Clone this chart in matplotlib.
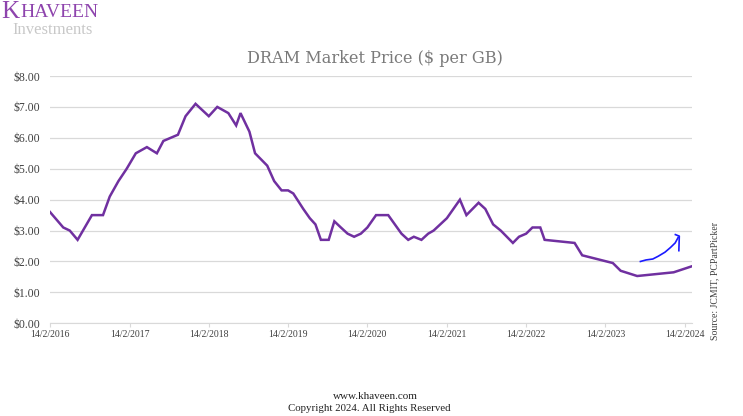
import matplotlib
matplotlib.use("Agg")
import matplotlib.pyplot as plt
import numpy as np
import pandas as pd

# DRAM price, $ per GB
dates = ["2016-02-14", "2016-04-15", "2016-05-15", "2016-06-20", "2016-08-25",
         "2016-10-15", "2016-11-15", "2016-12-25", "2017-02-01", "2017-03-15",
         "2017-05-05", "2017-06-20", "2017-07-20", "2017-09-25", "2017-10-30",
         "2017-12-15", "2018-02-14", "2018-03-25", "2018-05-15", "2018-06-20",
         "2018-07-10", "2018-08-20", "2018-09-15", "2018-11-10", "2018-12-12",
         "2019-01-15", "2019-02-14", "2019-03-10", "2019-04-25", "2019-05-25",
         "2019-06-20", "2019-07-15", "2019-08-20", "2019-09-15", "2019-10-15",
         "2019-11-15", "2019-12-15", "2020-01-15", "2020-02-14", "2020-03-25",
         "2020-05-20", "2020-07-20", "2020-08-20", "2020-09-15", "2020-10-20",
         "2020-11-20", "2020-12-15", "2021-02-14", "2021-04-15", "2021-05-15",
         "2021-07-10", "2021-08-10", "2021-09-15", "2021-10-20", "2021-12-15",
         "2022-01-12", "2022-02-14", "2022-03-15", "2022-04-20", "2022-05-10",
         "2022-09-25", "2022-10-30", "2023-03-20", "2023-04-25", "2023-07-10",
         "2023-12-25", "2024-03-20"]
prices = [3.6, 3.1, 3.0, 2.7, 3.5,
          3.5, 4.1, 4.6, 5.0, 5.5,
          5.7, 5.5, 5.9, 6.1, 6.7,
          7.1, 6.7, 7.0, 6.8, 6.4,
          6.8, 6.2, 5.5, 5.1, 4.6,
          4.3, 4.3, 4.2, 3.7, 3.4,
          3.2, 2.7, 2.7, 3.3, 3.1,
          2.9, 2.8, 2.9, 3.1, 3.5,
          3.5, 2.9, 2.7, 2.8, 2.7,
          2.9, 3.0, 3.4, 4.0, 3.5,
          3.9, 3.7, 3.2, 3.0, 2.6,
          2.8, 2.9, 3.1, 3.1, 2.7,
          2.6, 2.2, 1.95, 1.7, 1.53,
          1.65, 1.85]

tick_dates = ["2016-02-14", "2017-02-14", "2018-02-14", "2019-02-14", "2020-02-14",
              "2021-02-14", "2022-02-14", "2023-02-14", "2024-02-14"]
tick_labels = ["14/2/2016", "14/2/2017", "14/2/2018", "14/2/2019", "14/2/2020",
               "14/2/2021", "14/2/2022", "14/2/2023", "14/2/2024"]
y_ticks = [0, 1, 2, 3, 4, 5, 6, 7, 8]

# hand-drawn blue arrow (rough stroke + head)
arrow_dates = ["2023-07-25", "2023-08-20", "2023-09-20", "2023-10-15", "2023-11-15",
               "2023-12-10", "2024-01-01", "2024-01-15"]
arrow_vals = [2.0, 2.05, 2.08, 2.17, 2.3, 2.45, 2.6, 2.78]
head_dates = ["2024-01-02", "2024-01-20", "2024-01-18"]
head_vals = [2.87, 2.82, 2.35]

x = pd.to_datetime(dates)
serif = ["Liberation Serif", "DejaVu Serif"]

fig = plt.figure(figsize=(7.43, 4.16), dpi=100)
ax = fig.add_axes([0.0673, 0.2228, 0.8645, 0.5945])

ax.plot(x, prices, color="#7030a0", linewidth=1.8, solid_joinstyle="miter")

ax.set_ylim(0, 8)
ax.set_yticks(y_ticks)
ax.set_yticklabels([f"${v:.2f}" for v in y_ticks], family=serif, fontsize=8.5, color="#404040")
ax.set_xlim(pd.Timestamp("2016-02-14"), pd.Timestamp("2024-03-20"))
ax.set_xticks(pd.to_datetime(tick_dates))
ax.set_xticklabels(tick_labels, family=serif, fontsize=7, color="#404040")
ax.tick_params(axis="y", length=0, pad=7)
ax.tick_params(axis="x", length=3, color="#d9d9d9", pad=2)
ax.grid(axis="y", color="#d9d9d9", linewidth=0.9)
ax.set_axisbelow(True)
for s in ["top", "right", "left"]:
    ax.spines[s].set_visible(False)
ax.spines["bottom"].set_color("#d9d9d9")

# blue scribble arrow
ax.plot(pd.to_datetime(arrow_dates), arrow_vals, color="#1a1aff", linewidth=1.2)
ax.plot(pd.to_datetime(head_dates), head_vals, color="#1a1aff", linewidth=1.2)

fig.text(0.505, 0.859, "DRAM Market Price ($ per GB)", ha="center", va="center",
         family=["DejaVu Serif"], fontsize=11.6, color="#7a7a7a")

fig.text(0.002, 0.972, "K", ha="left", va="center", family=serif, fontsize=18, color="#8e44ad")
fig.text(0.028, 0.970, "HAVEEN", ha="left", va="center", family=serif, fontsize=14, color="#8e44ad")
fig.text(0.017, 0.928, "Investments", ha="left", va="center", family=serif, fontsize=12, color="#c8c8c8")

fig.text(0.962, 0.325, "Source: JCMIT, PCPartPicker", rotation=90, ha="center", va="center",
         family=serif, fontsize=7, color="#404040")

fig.text(0.505, 0.048, "www.khaveen.com", ha="center", va="center", family=serif, fontsize=8, color="#222222")
fig.text(0.497, 0.017, "Copyright 2024. All Rights Reserved", ha="center", va="center",
         family=serif, fontsize=7.8, color="#222222")

fig.savefig("out.png", dpi=100)
